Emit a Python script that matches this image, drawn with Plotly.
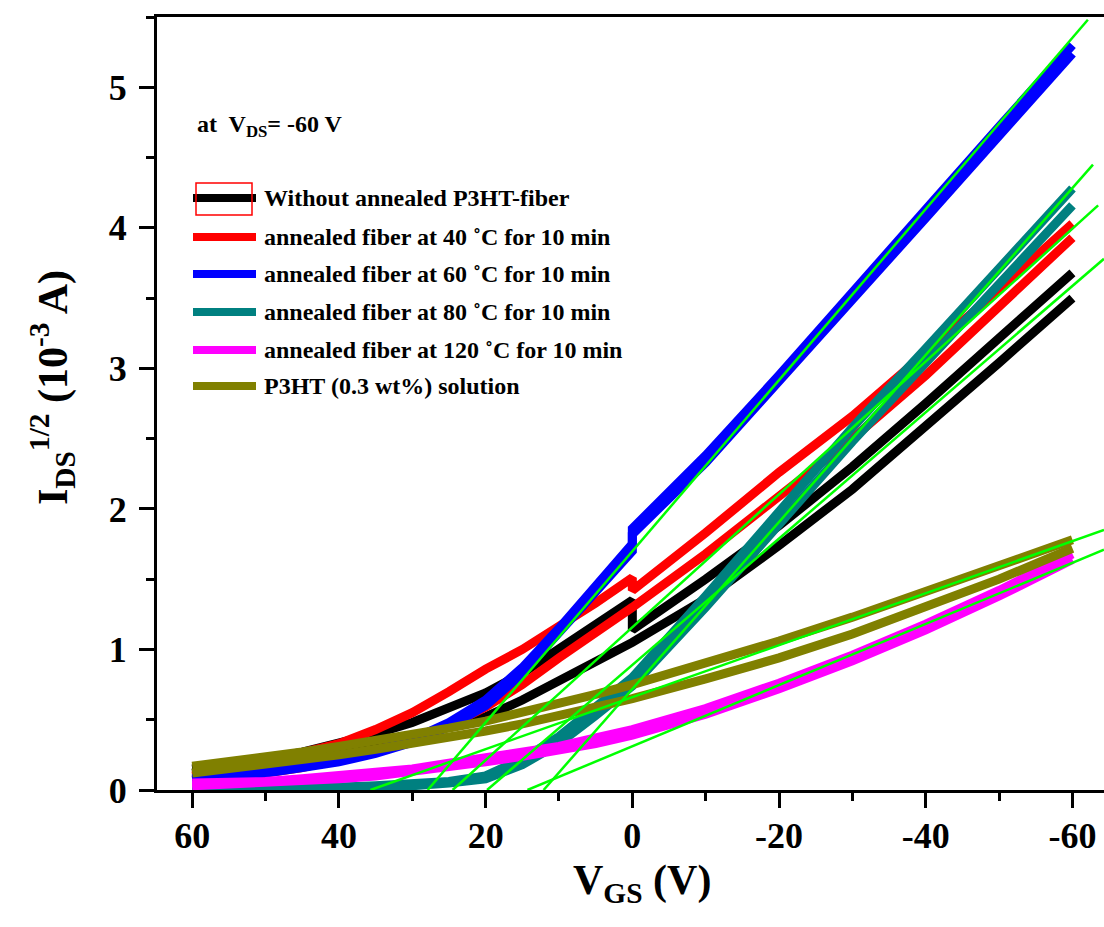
import plotly.graph_objects as go

# ---------------- data ----------------
V_GS = [60, 55, 50, 45, 40, 35, 30, 25, 20, 15, 10, 5, 0,
        0, -10, -20, -30, -40, -50, -60]

black_a = [0.15, 0.18, 0.22, 0.27, 0.33, 0.40, 0.48, 0.58, 0.69, 0.83, 1.00, 1.17, 1.35,
           1.14, 1.50, 1.88, 2.30, 2.75, 3.21, 3.68]
black_b = [0.12, 0.15, 0.19, 0.23, 0.28, 0.33, 0.38, 0.45, 0.52, 0.64, 0.78, 0.92, 1.05,
           1.05, 1.36, 1.74, 2.14, 2.58, 3.04, 3.50]
red_a = [0.10, 0.14, 0.20, 0.26, 0.33, 0.43, 0.55, 0.70, 0.86, 1.00, 1.16, 1.33, 1.51,
         1.42, 1.83, 2.26, 2.66, 3.10, 3.56, 4.03]
red_b = [0.07, 0.09, 0.12, 0.16, 0.22, 0.28, 0.36, 0.46, 0.59, 0.75, 0.94, 1.12, 1.30,
         1.30, 1.68, 2.10, 2.50, 2.95, 3.43, 3.93]
blue_a = [0.08, 0.10, 0.13, 0.17, 0.22, 0.28, 0.36, 0.48, 0.64, 0.87, 1.15, 1.45, 1.75,
          1.86, 2.38, 2.95, 3.55, 4.13, 4.72, 5.30]
blue_b = [0.07, 0.09, 0.12, 0.16, 0.20, 0.26, 0.34, 0.45, 0.60, 0.83, 1.11, 1.41, 1.70,
          1.82, 2.33, 2.90, 3.49, 4.07, 4.66, 5.24]
teal_a = [0.01, 0.01, 0.01, 0.02, 0.02, 0.03, 0.04, 0.06, 0.10, 0.22, 0.38, 0.58, 0.80,
          0.80, 1.38, 1.98, 2.58, 3.14, 3.70, 4.28]
teal_b = [0.00, 0.00, 0.01, 0.01, 0.02, 0.02, 0.03, 0.05, 0.08, 0.18, 0.33, 0.53, 0.74,
          0.74, 1.30, 1.90, 2.48, 3.04, 3.60, 4.16]
mag_a = [0.05, 0.05, 0.06, 0.08, 0.10, 0.12, 0.15, 0.19, 0.23, 0.27, 0.31, 0.37, 0.43,
         0.43, 0.58, 0.76, 0.96, 1.18, 1.42, 1.68]
mag_b = [0.03, 0.04, 0.05, 0.06, 0.08, 0.10, 0.13, 0.16, 0.20, 0.24, 0.28, 0.33, 0.39,
         0.39, 0.54, 0.72, 0.92, 1.14, 1.38, 1.64]
olive_a = [0.17, 0.20, 0.23, 0.27, 0.31, 0.35, 0.39, 0.44, 0.49, 0.55, 0.61, 0.68, 0.75,
           0.75, 0.90, 1.06, 1.23, 1.41, 1.59, 1.78]
olive_b = [0.12, 0.15, 0.18, 0.21, 0.25, 0.29, 0.33, 0.37, 0.42, 0.47, 0.53, 0.59, 0.65,
           0.65, 0.79, 0.94, 1.11, 1.30, 1.50, 1.72]

series_names = ["Without annealed P3HT-fiber",
                "annealed fiber at 40 ˚C for 10 min",
                "annealed fiber at 60 ˚C for 10 min",
                "annealed fiber at 80 ˚C for 10 min",
                "annealed fiber at 120 ˚C for 10 min",
                "P3HT (0.3 wt%) solution"]
series_colors = ["#000000", "#FF0000", "#0000FF", "#008080", "#FF00FF", "#808000"]
series_data = [(black_a, black_b), (red_a, red_b), (blue_a, blue_b),
               (teal_a, teal_b), (mag_a, mag_b), (olive_a, olive_b)]

# linear fits: x-intercept and end point
fit_x0 = [19.8, 24.5, 27.9, 12.1, 14.3, 35.7]
fit_x1 = [-64.3, -63.5, -62.1, -62.8, -64.3, -64.3]
fit_y1 = [3.78, 4.16, 5.48, 4.45, 1.71, 1.85]

x_ticks = [60, 40, 20, 0, -20, -40, -60]
x_ticktext = ["60", "40", "20", "0", "-20", "-40", "-60"]
y_ticks = [0, 1, 2, 3, 4, 5]

# ---------------- figure ----------------
FONT = "Liberation Serif"
L, R, T, B = 157, 1104, 17, 790


def px(xp):
    return (xp - L) / (R - L)


def py(yp):
    return (B - yp) / (B - T)


fig = go.Figure()

for (a, b), col in zip(series_data, series_colors):
    for branch in (a, b):
        fig.add_trace(go.Scatter(x=V_GS, y=branch, mode="lines",
                                 line=dict(color=col, width=9),
                                 showlegend=False, hoverinfo="skip"))

for x0, x1, y1 in zip(fit_x0, fit_x1, fit_y1):
    fig.add_trace(go.Scatter(x=[x0, x1], y=[0, y1], mode="lines",
                             line=dict(color="#00FF00", width=2.5),
                             showlegend=False, hoverinfo="skip"))

shapes = []
annotations = []

# manual legend
legend_rows = [198, 237, 274, 312, 350, 386]
for yrow, name, col in zip(legend_rows, series_names, series_colors):
    shapes.append(dict(type="line", xref="paper", yref="paper",
                       x0=px(193), x1=px(256), y0=py(yrow), y1=py(yrow),
                       line=dict(color=col, width=8)))
    annotations.append(dict(xref="paper", yref="paper", x=px(262), y=py(yrow),
                            xanchor="left", yanchor="middle", showarrow=False,
                            text=name,
                            font=dict(family=FONT, size=24, color="black", weight="bold")))
# red selection box around first legend symbol
shapes.append(dict(type="rect", xref="paper", yref="paper",
                   x0=px(196), x1=px(252), y0=py(215), y1=py(183),
                   line=dict(color="#FF0000", width=1.5)))

annotations.append(dict(xref="paper", yref="paper", x=px(195), y=py(126),
                        xanchor="left", yanchor="middle", showarrow=False,
                        text="at  V<sub>DS</sub>= -60 V",
                        font=dict(family=FONT, size=24, color="black", weight="bold")))

# axis titles
annotations.append(dict(xref="paper", yref="paper", x=px(642), y=py(883),
                        xanchor="center", yanchor="middle", showarrow=False,
                        text="V<sub>GS</sub> (V)",
                        font=dict(family=FONT, size=42, color="black", weight="bold")))
annotations.append(dict(xref="paper", yref="paper", x=px(52), y=py(388),
                        xanchor="center", yanchor="middle", showarrow=False,
                        textangle=-90,
                        text="I<sub>DS</sub><sup>1/2</sup> (10<sup>-3</sup> A)",
                        font=dict(family=FONT, size=42, color="black", weight="bold")))

axis_common = dict(showgrid=False, zeroline=False, showline=True, linewidth=3,
                   linecolor="black", ticks="outside", ticklen=15, tickwidth=3,
                   tickcolor="black",
                   tickfont=dict(family=FONT, size=36, color="black", weight="bold"))

fig.update_layout(
    width=1104, height=927,
    margin=dict(l=L, r=1104 - R, t=T, b=927 - B),
    paper_bgcolor="white", plot_bgcolor="white",
    showlegend=False,
    shapes=shapes, annotations=annotations,
    xaxis=dict(range=[64.8, -64.3], tickvals=x_ticks, ticktext=x_ticktext,
               mirror=True, ticklabelstandoff=-3,
               minor=dict(tickvals=[50, 30, 10, -10, -30, -50], ticks="outside",
                          ticklen=8, tickwidth=3, tickcolor="black"),
               **axis_common),
    yaxis=dict(range=[0, 5.5], tickvals=y_ticks, mirror=False, ticklabelstandoff=5,
               minor=dict(dtick=0.5, ticks="outside", ticklen=8, tickwidth=3,
                          tickcolor="black"),
               **axis_common),
)

fig.write_html("out.html")
